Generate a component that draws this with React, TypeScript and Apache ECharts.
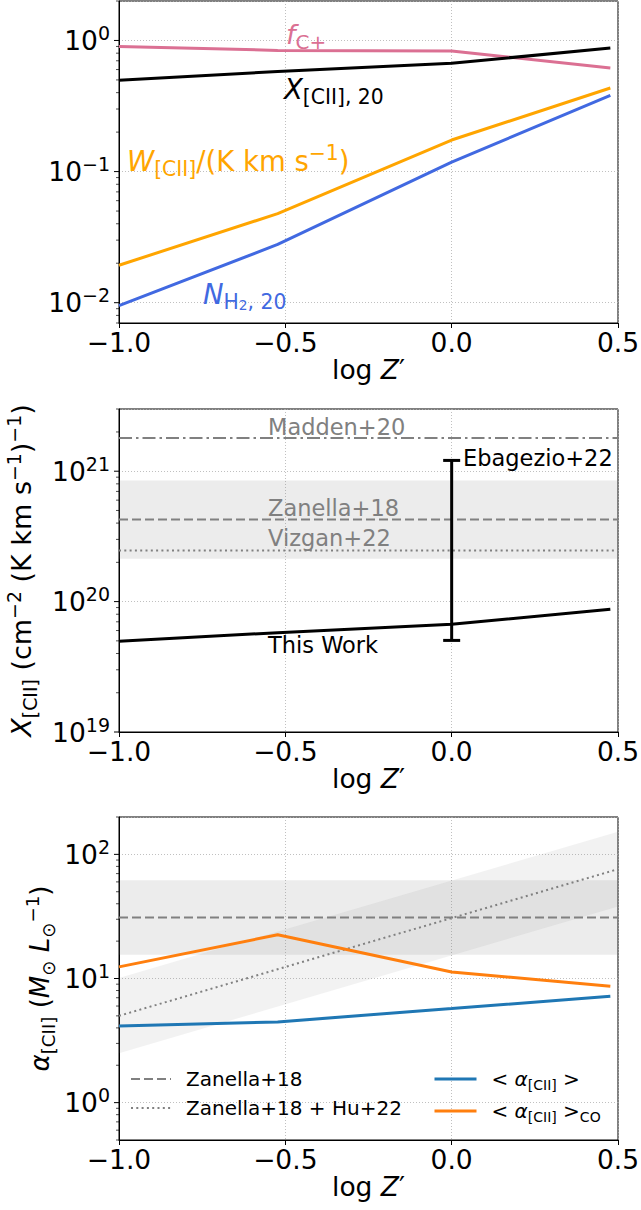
import React, { useEffect, useRef } from 'react';
import * as echarts from 'echarts';

const F = 'DejaVu Sans';

// shared x values: log Z' for Z' = 0.1, 0.3, 1, 3
const LOGZ = [-1, -0.523, 0, 0.477];
const X_TICKS = [-1, -0.5, 0, 0.5];

// Panel 1
const F_CPLUS = [0.9, 0.84, 0.83, 0.616];
const X_CII_20 = [0.497, 0.58, 0.67, 0.875];
const W_CII = [0.0193, 0.0478, 0.174, 0.434];
const N_H2_20 = [0.0095, 0.0278, 0.118, 0.382];

// Panel 2
const X_CII = [4.97e19, 5.78e19, 6.7e19, 8.75e19];
const MADDEN20 = 1.8e21;
const ZANELLA18_X = 4.27e20;
const ZANELLA18_X_BAND = [2.13e20, 8.5e20];
const VIZGAN22 = 2.47e20;
const EBAGEZIO22 = [0, 5.04e19, 1.21e21];

// Panel 3
const ALPHA = [4.15, 4.47, 5.73, 7.2];
const ALPHA_CO = [12.4, 22.5, 11.3, 8.67];
const ZANELLA18_A = 31;
const ZANELLA18_A_BAND = [15.5, 62];
const HU22_X = [-1, 0.5];
const HU22 = [5.0, 76];
const HU22_LO = [2.5, 38];
const HU22_HI = [10.1, 152];

const Y_LIMS: [number, number][] = [
  [0.007, 2],
  [1e19, 3e21],
  [0.5, 200],
];

const GRIDS = [
  { top: 1, height: 322 },
  { top: 409, height: 323 },
  { top: 817, height: 323 },
];

const richSet = (s: number, color: string, r = 0.7) => ({
  n: { fontSize: s, lineHeight: Math.round(s * 1.3), fontFamily: F, color, fill: color },
  i: { fontSize: s, lineHeight: Math.round(s * 1.3), fontFamily: F, fontStyle: 'italic', color, fill: color },
  sb: { fontSize: s * r, lineHeight: Math.round(s * 0.75), verticalAlign: 'bottom', fontFamily: F, color, fill: color },
  sp: { fontSize: s * r, lineHeight: Math.round(s * 0.75), verticalAlign: 'top', fontFamily: F, color, fill: color },
  ss: { fontSize: s * 0.5, lineHeight: Math.round(s * 0.5), verticalAlign: 'bottom', fontFamily: F, color, fill: color },
  g: { width: 10, fontSize: s, fontFamily: F },
});

const pair = (xs: number[], ys: number[]) => xs.map((x, i) => [x, ys[i]]);

const lineSeries = (name: string, gi: number, data: number[][], color: string, width: number, type: any = 'solid', z = 4) => ({
  type: 'line',
  name,
  xAxisIndex: gi,
  yAxisIndex: gi,
  data,
  symbol: 'none',
  showSymbol: false,
  silent: true,
  clip: true,
  lineStyle: { color, width, type },
  itemStyle: { color },
  z,
});

const yTickSeries = (gi: number) => {
  const [min, max] = Y_LIMS[gi];
  const data: number[][] = [];
  for (let d = Math.floor(Math.log10(min)); d <= Math.ceil(Math.log10(max)); d++) {
    for (let m = 1; m <= 9; m++) {
      const v = m * Math.pow(10, d);
      if (v >= min * 0.9999 && v <= max * 1.0001) data.push([-1, v, m === 1 ? 1 : 0]);
    }
  }
  return {
    type: 'custom',
    xAxisIndex: gi,
    yAxisIndex: gi,
    silent: true,
    clip: false,
    z: 6,
    data,
    encode: { x: 0, y: 1 },
    renderItem: (_p: any, api: any) => {
      const major = api.value(2) === 1;
      const p = api.coord([api.value(0), api.value(1)]);
      const len = major ? 5 : 3;
      return {
        type: 'line',
        shape: { x1: p[0] - len, y1: p[1], x2: p[0], y2: p[1] },
        style: { stroke: '#000', lineWidth: major ? 1 : 0.7 },
      };
    },
  };
};

const xName = '{n|log }{i|Z}{n|′}';

export default function App() {
  const ref = useRef<HTMLDivElement>(null);
  useEffect(() => {
    if (!ref.current) return;
    const chart = echarts.init(ref.current, null, { renderer: 'svg' });

    const grid = GRIDS.map((g) => ({
      left: 119,
      right: 23,
      top: g.top,
      height: g.height,
      show: true,
      borderColor: '#000',
      borderWidth: 1,
      containLabel: false,
      outerBoundsMode: 'none',
    }));

    const xAxis = GRIDS.map((_g, gi) => ({
      type: 'value',
      gridIndex: gi,
      min: X_TICKS[0],
      max: X_TICKS[X_TICKS.length - 1],
      interval: 0.5,
      name: xName,
      nameLocation: 'middle',
      nameGap: 29,
      nameMoveOverlap: false,
      nameTextStyle: { rich: richSet(26.5, '#000'), verticalAlign: 'top' },
      axisLine: { show: true, onZero: false, lineStyle: { color: '#000', width: 1 } },
      axisTick: { show: true, inside: false, length: 5, lineStyle: { color: '#000', width: 1 } },
      axisLabel: {
        show: true,
        margin: 6,
        fontSize: 26.5,
        fontFamily: F,
        color: '#000',
        formatter: (v: number) => v.toFixed(1).replace('-', '−'),
        showMinLabel: true,
        showMaxLabel: true,
        hideOverlap: false,
      },
      splitLine: { show: true, lineStyle: { color: '#b0b0b0', width: 0.8, type: [1, 2] } },
    }));

    const yRich = {
      b: { fontSize: 26.5, lineHeight: 34, fontFamily: F, color: '#000' },
      s: { fontSize: 19, lineHeight: 19, fontFamily: F, color: '#000', verticalAlign: 'top' },
    };

    const yNames = [
      '',
      '{i|X}{sb|[CII]}{n| (cm}{sp|−2}{n| (K km s}{sp|−1}{n|)}{sp|−1}{n|)}',
      '{i|α}{sb|[CII]}{n| (}{i|M}{sb|⊙}{n| }{i|L}{sb|⊙}{sp|−1}{n|)}',
    ];
    const yNameGaps = [60, 80, 62];
    const yNameSizes = [26, 27, 26];

    const yAxis = GRIDS.map((_g, gi) => ({
      type: 'log',
      logBase: 10,
      gridIndex: gi,
      min: Y_LIMS[gi][0],
      max: Y_LIMS[gi][1],
      name: yNames[gi],
      nameLocation: 'middle',
      nameRotate: 90,
      nameGap: yNameGaps[gi],
      nameMoveOverlap: false,
      nameTextStyle: { rich: richSet(yNameSizes[gi], '#000') },
      axisLine: { show: true, onZero: false, lineStyle: { color: '#000', width: 1 } },
      axisTick: { show: false },
      minorTick: { show: false },
      axisLabel: {
        show: true,
        margin: 9,
        hideOverlap: false,
        rich: yRich,
        formatter: (v: number) => {
          const e = Math.log10(v);
          const r = Math.round(e);
          if (Math.abs(e - r) > 1e-6) return '';
          return `{b|10}{s|${String(r).replace('-', '−')}}`;
        },
      },
      splitLine: { show: true, lineStyle: { color: '#b0b0b0', width: 0.8, type: [1, 2] } },
    }));

    const GRAY = '#808080';

    const series: any[] = [
      // Panel 1
      lineSeries('fC+', 0, pair(LOGZ, F_CPLUS), '#DB7093', 3),
      lineSeries('XCII20', 0, pair(LOGZ, X_CII_20), '#000000', 3),
      lineSeries('WCII', 0, pair(LOGZ, W_CII), '#FFA500', 3),
      lineSeries('NH2', 0, pair(LOGZ, N_H2_20), '#4169E1', 3),
      yTickSeries(0),
      // Panel 2
      {
        ...lineSeries('Zanella2', 1, [[X_TICKS[0], ZANELLA18_X], [X_TICKS[3], ZANELLA18_X]], GRAY, 2, [9, 4], 3),
        markArea: {
          silent: true,
          itemStyle: { color: 'rgba(128,128,128,0.15)' },
          data: [[{ yAxis: ZANELLA18_X_BAND[0] }, { yAxis: ZANELLA18_X_BAND[1] }]],
          z: 1,
        },
      },
      lineSeries('Madden', 1, [[X_TICKS[0], MADDEN20], [X_TICKS[3], MADDEN20]], GRAY, 2, [13, 4, 2.5, 4], 3),
      lineSeries('Vizgan', 1, [[X_TICKS[0], VIZGAN22], [X_TICKS[3], VIZGAN22]], GRAY, 2, [2, 3.3], 3),
      lineSeries('ThisWork', 1, pair(LOGZ, X_CII), '#000000', 3),
      {
        type: 'custom',
        name: 'Ebagezio',
        xAxisIndex: 1,
        yAxisIndex: 1,
        silent: true,
        z: 5,
        data: [EBAGEZIO22],
        encode: { x: 0, y: [1, 2] },
        renderItem: (_p: any, api: any) => {
          const lo = api.coord([api.value(0), api.value(1)]);
          const hi = api.coord([api.value(0), api.value(2)]);
          const st = { stroke: '#000', lineWidth: 3 };
          return {
            type: 'group',
            children: [
              { type: 'line', shape: { x1: lo[0], y1: lo[1], x2: hi[0], y2: hi[1] }, style: st },
              { type: 'line', shape: { x1: lo[0] - 8.5, y1: lo[1], x2: lo[0] + 8.5, y2: lo[1] }, style: st },
              { type: 'line', shape: { x1: hi[0] - 8.5, y1: hi[1], x2: hi[0] + 8.5, y2: hi[1] }, style: st },
            ],
          };
        },
      },
      yTickSeries(1),
      // Panel 3
      {
        type: 'custom',
        name: 'HuBand',
        xAxisIndex: 2,
        yAxisIndex: 2,
        silent: true,
        clip: true,
        z: 1,
        data: [[HU22_X[0], HU22_LO[0], HU22_HI[0]]],
        encode: { x: 0, y: [1, 2] },
        renderItem: (_p: any, api: any) => {
          const pts: number[][] = [];
          for (let i = 0; i < HU22_X.length; i++) pts.push(api.coord([HU22_X[i], HU22_HI[i]]));
          for (let i = HU22_X.length - 1; i >= 0; i--) pts.push(api.coord([HU22_X[i], HU22_LO[i]]));
          return { type: 'polygon', shape: { points: pts }, style: { fill: 'rgba(128,128,128,0.1)' } };
        },
      },
      {
        ...lineSeries('Zanella+18', 2, [[X_TICKS[0], ZANELLA18_A], [X_TICKS[3], ZANELLA18_A]], GRAY, 2, [9, 4], 3),
        markArea: {
          silent: true,
          itemStyle: { color: 'rgba(128,128,128,0.15)' },
          data: [[{ yAxis: ZANELLA18_A_BAND[0] }, { yAxis: ZANELLA18_A_BAND[1] }]],
          z: 1,
        },
      },
      lineSeries('Zanella+18 + Hu+22', 2, pair(HU22_X, HU22), GRAY, 2, [2, 3.3], 3),
      lineSeries('alpha', 2, pair(LOGZ, ALPHA), '#1f77b4', 3),
      lineSeries('alphaCO', 2, pair(LOGZ, ALPHA_CO), '#ff7f0e', 3),
      yTickSeries(2),
    ];

    const legendNames: Record<string, string> = {
      'Zanella+18': '{g|}{n|Zanella+18}',
      'Zanella+18 + Hu+22': '{g|}{n|Zanella+18 + Hu+22}',
      alpha: '{g|}{n|< }{i|α}{sb|[CII]}{n| >}',
      alphaCO: '{g|}{n|< }{i|α}{sb|[CII]}{n| >}{sb|CO}',
    };
    const legendBase = {
      orient: 'vertical',
      top: 1069,
      padding: 0,
      itemGap: 9,
      itemHeight: 14,
      selectedMode: false,
      itemStyle: { opacity: 0, color: 'transparent', borderWidth: 0 },
      formatter: (name: string) => legendNames[name],
      textStyle: { rich: richSet(20, '#000') },
    };

    const txt = (x: number, y: number, text: string, size: number, color: string, r = 0.7) => ({
      type: 'text',
      x,
      y,
      silent: true,
      z: 10,
      style: { text, rich: richSet(size, color, r), fill: color, fontSize: size, fontFamily: F, verticalAlign: 'middle', align: 'left' },
    });

    const graphic = [
      txt(286, 34, '{i|f}{sb|C+}', 27, '#DB7093', 0.74),
      txt(284, 89, '{i|X}{sb|[CII], 20}', 27.5, '#000000', 0.74),
      txt(127, 161, '{i|W}{sb|[CII]}{n|/(K km s}{sp|−1}{n|)}', 27.5, '#FFA500', 0.74),
      txt(203, 294, '{i|N}{sb|H}{ss|2}{sb|, 20}', 27.5, '#4169E1', 0.74),
      txt(268, 427, '{n|Madden+20}', 22.5, GRAY),
      txt(463, 458, '{n|Ebagezio+22}', 22.5, '#000000'),
      txt(268, 508, '{n|Zanella+18}', 22.5, GRAY),
      txt(268, 538, '{n|Vizgan+22}', 22.5, GRAY),
      txt(268, 645, '{n|This Work}', 22.5, '#000000'),
    ];

    chart.setOption({
      animation: false,
      backgroundColor: '#ffffff',
      grid,
      xAxis,
      yAxis,
      series,
      graphic,
      legend: [
        {
          ...legendBase,
          left: 130,
          itemWidth: 40,
          data: [
            { name: 'Zanella+18', lineStyle: { width: 2, type: [9, 4], color: GRAY } },
            { name: 'Zanella+18 + Hu+22', lineStyle: { width: 2, type: [2, 3.3], color: GRAY } },
          ],
        },
        {
          ...legendBase,
          left: 433,
          itemWidth: 42,
          data: [
            { name: 'alpha', lineStyle: { width: 3, color: '#1f77b4' } },
            { name: 'alphaCO', lineStyle: { width: 3, color: '#ff7f0e' } },
          ],
        },
      ],
    });

    return () => chart.dispose();
  }, []);

  return <div ref={ref} style={{ position: 'absolute', left: 0, top: 0, width: 641, height: 1210 }} />;
}
